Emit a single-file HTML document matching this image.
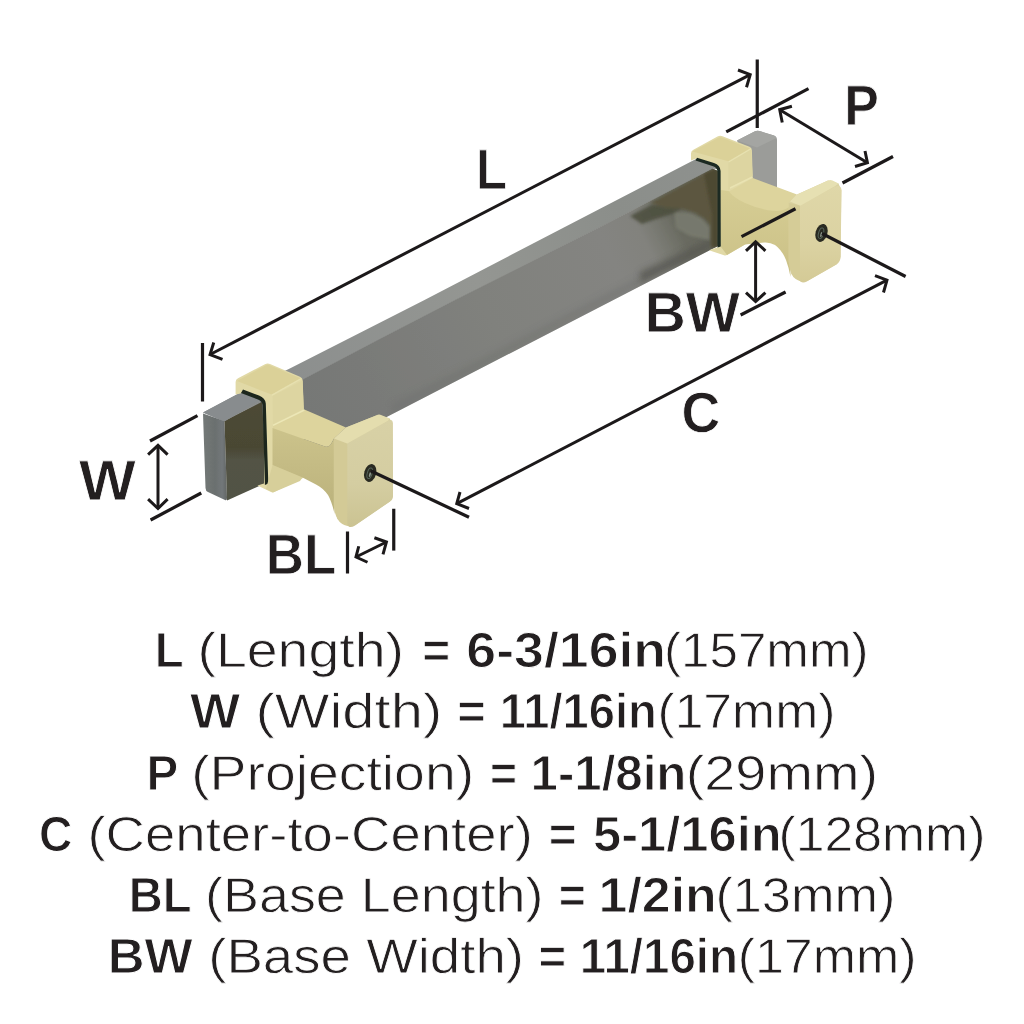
<!DOCTYPE html>
<html lang="en">
<head>
<meta charset="utf-8">
<title>Cabinet Pull Dimensions</title>
<style>
html,body{margin:0;padding:0;background:#fff;}
body{width:1024px;height:1024px;overflow:hidden;}
svg{display:block;}
text{font-family:"Liberation Sans",sans-serif;fill:#231f20;text-rendering:geometricPrecision;}
.tr{font-size:49.09px;font-weight:400;stroke:#fff;stroke-width:0.8px;}
.tb{font-size:49.38px;font-weight:700;stroke:#fff;stroke-width:1.0px;}
.lb{font-size:56.94px;font-weight:700;stroke:#fff;stroke-width:0.8px;}
</style>
</head>
<body>
<svg width="1024" height="1024" viewBox="0 0 1024 1024">
<rect width="1024" height="1024" fill="#ffffff"/>
<defs>
  <linearGradient id="gFront" gradientUnits="userSpaceOnUse" x1="300" y1="400" x2="712" y2="190">
    <stop offset="0" stop-color="#767876"/>
    <stop offset="0.15" stop-color="#797a78"/>
    <stop offset="0.445" stop-color="#80817d"/>
    <stop offset="0.74" stop-color="#848481"/>
    <stop offset="0.82" stop-color="#82827d"/>
    <stop offset="0.86" stop-color="#76776f"/>
    <stop offset="0.90" stop-color="#696a60"/>
    <stop offset="1" stop-color="#64655a"/>
  </linearGradient>
  <linearGradient id="gTop" gradientUnits="userSpaceOnUse" x1="240" y1="400" x2="712" y2="160">
    <stop offset="0" stop-color="#8a8d8d"/>
    <stop offset="0.5" stop-color="#949692"/>
    <stop offset="0.8" stop-color="#8b8e8a"/>
    <stop offset="1" stop-color="#8e918e"/>
  </linearGradient>
  <linearGradient id="gEnd" gradientUnits="userSpaceOnUse" x1="203" y1="0" x2="227" y2="0">
    <stop offset="0" stop-color="#747978"/>
    <stop offset="0.5" stop-color="#6b706f"/>
    <stop offset="0.8" stop-color="#72777a"/>
    <stop offset="1" stop-color="#626665"/>
  </linearGradient>
  <linearGradient id="gSideL" gradientUnits="userSpaceOnUse" x1="0" y1="405" x2="0" y2="500">
    <stop offset="0" stop-color="#4d4a35"/>
    <stop offset="0.45" stop-color="#4a4733"/>
    <stop offset="0.58" stop-color="#525345"/>
    <stop offset="1" stop-color="#515345"/>
  </linearGradient>
  <linearGradient id="gPlateL" gradientUnits="userSpaceOnUse" x1="0" y1="420" x2="0" y2="527">
    <stop offset="0" stop-color="#d8d1a6"/>
    <stop offset="0.6" stop-color="#d4cda1"/>
    <stop offset="1" stop-color="#cbc392"/>
  </linearGradient>
  <linearGradient id="gPlateR" gradientUnits="userSpaceOnUse" x1="0" y1="185" x2="0" y2="283">
    <stop offset="0" stop-color="#dfd7a8"/>
    <stop offset="0.6" stop-color="#dbd2a2"/>
    <stop offset="1" stop-color="#d4ca96"/>
  </linearGradient>
  <linearGradient id="gArmL" gradientUnits="userSpaceOnUse" x1="0" y1="428" x2="0" y2="500">
    <stop offset="0" stop-color="#ccc38b"/>
    <stop offset="1" stop-color="#bdb47e"/>
  </linearGradient>
  <linearGradient id="gArmR" gradientUnits="userSpaceOnUse" x1="0" y1="190" x2="0" y2="280">
    <stop offset="0" stop-color="#d6cd94"/>
    <stop offset="1" stop-color="#cac086"/>
  </linearGradient>
  <filter id="b3" x="-20%" y="-20%" width="140%" height="140%"><feGaussianBlur stdDeviation="3"/></filter>
  <filter id="b2" x="-20%" y="-20%" width="140%" height="140%"><feGaussianBlur stdDeviation="1.6"/></filter>
  <filter id="b1" x="-5%" y="-5%" width="110%" height="110%"><feGaussianBlur stdDeviation="0.6"/></filter>
  <clipPath id="cFront"><polygon points="300,381.5 380,339.3 455.8,300 600,227.5 712.5,168.75 718,171 718,246 392.5,414 300,462"/></clipPath>
</defs>

<!-- ===== product ===== -->
<g id="product" filter="url(#b1)">
  <!-- far bar end behind right clip -->
  <path d="M737,140.5 L755,131.2 Q757,130.2 759.5,131 L774,135.6 Q777,136.8 777,140 L777,188 L750,178 Z" fill="#9b9c99"/>
  <path d="M737,140.5 L755,131.2 Q757,130.2 759.5,131 L774,135.6 Q776,136.3 776.5,138 L757,147.5 Z" fill="#a4a5a2"/>

  <!-- bar top face -->
  <polygon points="203,412.5 242.5,391.5 289.8,368.4 424.5,300 600,208.75 697,158.6 715,164 718,169 712.5,168.75 600,227.5 455.8,300 380,339.3 305.4,378.5 224,421.5" fill="url(#gTop)"/>
  <!-- bar front face -->
  <polygon points="224,421.5 305.4,378 380,338.8 455.8,299.5 600,227 712.5,168.4 718,171 718,246 392.5,414 300,462" fill="url(#gFront)"/>
  <g clip-path="url(#cFront)">
    <!-- darker lower band -->
    <polygon points="392,414 640,285 640,277 392,405" fill="#6f716e" opacity="0.5" filter="url(#b3)"/>
    <polygon points="640,284 718,245 718,236 640,272" fill="#565751" opacity="0.8" filter="url(#b3)"/>
    <!-- light patch -->
    <polygon points="674,212 690,213 702,218.5 709,226.5 709.5,240 690,236 676,228" fill="#787a6e" opacity="0.95" filter="url(#b2)"/>
    <!-- dark band under boundary -->
    <polygon points="630,216 652,204.5 676,203 682,208 672,214 656,219 642,224" fill="#4c4e3e" opacity="0.85" filter="url(#b2)"/>
    <!-- olive reflection near right clip -->
    <polygon points="650,203 712,169.5 718,171 718,247 711,247 711,226 705,219 695,212.5 680,208.5 666,208" fill="#5b563f" filter="url(#b2)"/>
    <polygon points="704,174 718,167 718,247 712,247 712,215" fill="#4e4a33" filter="url(#b2)"/>
  </g>

  <!-- bar left end cap -->
  <path d="M203,413.5 L224.5,421 L227,498 Q227,500.8 225,500 L208,492 Q205.6,491 205.5,488 Z" fill="url(#gEnd)"/>
  <path d="M224.5,421 L262,402 L267,482.5 L227,500.6 Z" fill="url(#gSideL)"/>
  <polygon points="203,412.5 242.5,391.5 262,398.5 224.5,421.5" fill="#888c8e"/>

  <!-- ===== left mount ===== -->
  <!-- clip silhouette -->
  <path d="M235.6,382 Q235.6,379.5 238,378.3 L265,364.2 Q267.5,362.9 270,364 L300,376.8 Q302.6,378 302.7,380.5 L303.75,409 L303,478 L274,492 Q272.5,492.8 271,492 L257.5,485.5 L264,483.5 L264,404 Q263.6,399 259,397 L244,391 L240.5,393.4 L235.6,394.4 Z" fill="#e1d9a6"/>
  <!-- dark gap -->
  <path d="M243,389.6 L259,395.6 Q265.2,398 265.8,403.5 L268.3,483.6 L264.9,485 L262.6,405 Q262.2,401.3 258,399.4 L241,393 Z" fill="#1a261f"/>
  <!-- clip top face -->
  <path d="M237,381 L266,365.2 Q267.5,364.4 269,365 L300.5,378.3 L271.5,394.6 Z" fill="#dbd198"/>
  <!-- clip right-front above arm -->
  <polygon points="272.5,396 302.5,380.5 303.75,409 273,424.5" fill="#ddd5a1"/>
  <!-- clip lower below arm -->
  <polygon points="272.5,465 302.5,477.5 300,481 273,492.5 266,489" fill="#d7cf9a"/>
  <!-- arm top face -->
  <path d="M273,425 L304.4,409.4 L346,427.5 L334,438.5 L331,444 Q329,447.6 325,446.5 L273,428.5 Z" fill="#ddd49d"/>
  <path d="M273,425.4 L304.4,410" stroke="#ece7b7" stroke-width="1.6" fill="none"/>
  <path d="M271.8,395.2 L301,378.8" stroke="#e7e1b0" stroke-width="1.2" fill="none"/>
  <!-- arm front face -->
  <path d="M272.5,428 L325,446.5 Q329,447.6 331,444 L334,439 L334.5,514 Q332,502 328,495 Q323,488 316,484.5 L302.5,477.5 L272.5,465 Z" fill="url(#gArmL)"/>
  <path d="M334,438.5 L346,427.5 L378,414.8 L389.5,418.6 L392.6,423 L393,496 L390,501.4 L355,525.2 L347.5,526 L337.5,519 L334,505 Z" fill="#d5cd9e"/>
  <!-- plate left side face -->
  <path d="M333.75,438.5 L348.3,444 L348.3,526 Q341,525 337.5,519 Q334.5,514 333.75,505 Z" fill="#d3ca96"/>
  <!-- plate front face -->
  <path d="M347.3,443.4 L388.5,420.6 Q392.6,418.4 392.8,423 L393,496 Q393,499.6 390,501.6 L355,525.4 Q351,527.8 348.6,526.4 Q347.3,525.5 347.3,523 Z" fill="url(#gPlateL)"/>
  <!-- plate top face -->
  <path d="M334,438.5 L346,427.5 L378,414.8 Q379.4,414.3 381,414.9 L389.8,418.6 Q389,419.6 388,420.8 L347.3,443.6 Z" fill="#e4ddae"/>
  <!-- hole -->
  <g transform="translate(370.2,473) rotate(16)">
    <ellipse rx="5.9" ry="9.2" fill="#2a2c22"/>
    <ellipse rx="2.4" ry="5.4" cx="-0.4" cy="0.4" fill="none" stroke="#56635a" stroke-width="1"/>
    <ellipse rx="0.9" ry="2.6" cx="0.2" cy="1.6" fill="#8d968c"/>
  </g>

  <!-- ===== right mount ===== -->
  <!-- clip silhouette -->
  <path d="M691,153.5 Q691,151 693.4,149.8 L717.5,136.6 Q720,135.3 722.5,136.3 L749.5,146.8 Q751.8,147.7 751.9,150.3 L752.7,178 L752.7,240 L745,244.5 L727,255 Q725.5,255.8 724,255.2 L709,250.2 L720,246.5 L720,171 Q719.6,166 715,164 L697,158.3 L691,160.5 Z" fill="#e1d9a6"/>
  <!-- dark gap -->
  <path d="M697,157.8 L714,163 Q720.2,165 720.6,171 L720.8,246.5 L717.5,247.5 L717.5,171.5 Q717.2,167.6 713,166.2 L695.5,160.6 Z" fill="#1b2a22"/>
  <!-- clip top -->
  <path d="M692.5,151.5 L719,137.6 Q720.3,137 721.6,137.5 L750,148.6 L728.4,161.2 Z" fill="#dbd198"/>
  <!-- clip right-front -->
  <polygon points="728.4,162.2 751,149 752.7,176 730,187.8 728.4,191" fill="#ddd5a1"/>
  <!-- arm front face -->
  <path d="M728,191 L790,205 L790.5,277 Q789,268 786,260 Q782,250 775,245 Q770,242 764,242.5 L745,244.5 L727,255 L721,247 L721,190 Z" fill="url(#gArmR)"/>
  <!-- arm top face -->
  <path d="M729,191.5 L752.7,178 L797,194.5 L791,201 L789,207 Q784,211 776,211 Q760,210 745,203 Q733,197.5 729,191.5 Z" fill="#ddd49d"/>
  <path d="M730,188 L752.5,177" stroke="#e9e3b2" stroke-width="1.4" fill="none"/>
  <path d="M728.6,162 L751,148.8" stroke="#e7e1b0" stroke-width="1.2" fill="none"/>
  <path d="M790,201.5 L797,194.5 L828,180.6 L838.5,183.6 L841.3,190 L840.5,257 L836.5,264.3 L807,281.2 L800.5,281.5 L791.5,274 L788.75,262 L788.75,203 Z" fill="#dad2a1"/>
  <!-- plate left side -->
  <path d="M788.75,203 L801.3,205.5 L801.3,281.5 Q794,279.5 791.5,274 Q789.5,269 788.75,262 Z" fill="#d5cc97"/>
  <!-- plate front -->
  <path d="M800,205.6 L834.5,187 Q841.2,183.6 841.5,190.5 L840.6,257 Q840.5,262 836.5,264.4 L807.5,281 Q803,283.6 801,281.8 Q800,281 800,279 Z" fill="url(#gPlateR)"/>
  <!-- plate top -->
  <path d="M797,194.5 L828,180.6 Q830.5,179.6 832.5,180.4 L838.6,183.4 Q837,184.6 834.5,186.6 L800.3,205.8 L790,201.5 Z" fill="#e6e0b2"/>
  <!-- hole -->
  <g transform="translate(821.5,232.9) rotate(16)">
    <ellipse rx="5.9" ry="9.2" fill="#2a2c22"/>
    <ellipse rx="2.4" ry="5.4" cx="-0.4" cy="0.4" fill="none" stroke="#56635a" stroke-width="1"/>
    <ellipse rx="0.9" ry="2.6" cx="0.2" cy="1.6" fill="#8d968c"/>
  </g>
</g>

<!-- ===== dimension lines ===== -->
<g stroke="#1c191a" fill="none" stroke-linecap="butt" stroke-linejoin="miter">
  <g stroke-width="3.2">
    <path d="M202.5,343 V401.5"/>
    <path d="M757.25,59.5 V128"/>
    <path d="M150,441 L197.5,415.6"/>
    <path d="M150.6,520 L201.25,493"/>
    <path d="M347.5,531.5 V573.5"/>
    <path d="M393.75,508.75 V550.6"/>
    <path d="M371,471 L469,517.25"/>
    <path d="M822,233.5 L905.6,276.5"/>
    <path d="M726.25,131.9 L808.5,88.6"/>
    <path d="M842.5,183 L893,156.5"/>
    <path d="M741.5,236.7 L795.5,208.75"/>
    <path d="M740.6,315 L785.6,292"/>
  </g>
  <g stroke-width="3.0">
<path d="M210.05,354.54 L750.20,74.56"/>
<path d="M213.75,342.5 L210.05,354.54 L222.5,359.4"/>
<path d="M738,70 L750.20,74.56 L746.5,87.25"/>
<path d="M158.00,445.33 L158.00,508.47"/>
<path d="M148.1,454.6 L158.00,445.33 L167.6,454.6"/>
<path d="M148.1,499.2 L158.00,508.47 L167.6,499.2"/>
<path d="M355.98,557.02 L386.42,542.02"/>
<path d="M358.75,546.25 L355.98,557.02 L367.5,562.25"/>
<path d="M374.4,537.75 L386.42,542.02 L383,554.4"/>
<path d="M456.77,503.70 L886.96,280.06"/>
<path d="M460,492 L456.77,503.70 L469,508.5"/>
<path d="M875,275.6 L886.96,280.06 L883.5,292.5"/>
<path d="M779.72,109.69 L867.43,162.81"/>
<path d="M791.9,106.25 L779.72,109.69 L782.25,122.5"/>
<path d="M865,151 L867.43,162.81 L855,166.5"/>
<path d="M755.60,241.71 L755.60,301.51"/>
<path d="M746,250.8 L755.60,241.71 L765.4,250.8"/>
<path d="M746,292.6 L755.60,301.51 L765.4,292.6"/>
</g>
</g>

<g id="labels" style="opacity:0.999">
<g class="line">
<text class="tb" transform="translate(154.64,667.00) scale(0.9600,1)">L </text>
<text class="tr" transform="translate(197.41,667.00) scale(1.1307,1)">(Length) </text>
<text class="tb" transform="translate(422.33,667.00) scale(0.9688,1)">= </text>
<text class="tb" transform="translate(466.37,667.00) scale(1.0864,1)">6-3/16in</text>
<text class="tr" transform="translate(663.96,667.00) scale(1.0424,1)">(157mm)</text>
</g>
<g class="line">
<text class="tb" transform="translate(189.96,728.00) scale(1.0761,1)">W </text>
<text class="tr" transform="translate(255.48,728.00) scale(1.1810,1)">(Width) </text>
<text class="tb" transform="translate(457.28,728.00) scale(0.9896,1)">= </text>
<text class="tb" transform="translate(499.66,728.00) scale(0.9543,1)">11/16in</text>
<text class="tr" transform="translate(657.42,728.00) scale(1.0528,1)">(17mm)</text>
</g>
<g class="line">
<text class="tb" transform="translate(146.62,790.00) scale(0.9643,1)">P </text>
<text class="tr" transform="translate(191.17,790.00) scale(1.1275,1)">(Projection) </text>
<text class="tb" transform="translate(489.91,790.00) scale(0.9375,1)">= </text>
<text class="tb" transform="translate(530.51,790.00) scale(0.9966,1)">1-1/8in</text>
<text class="tr" transform="translate(685.63,790.00) scale(1.1387,1)">(29mm)</text>
</g>
<g class="line">
<text class="tb" transform="translate(38.91,851.00) scale(0.9375,1)">C </text>
<text class="tr" transform="translate(87.47,851.00) scale(1.1108,1)">(Center-to-Center) </text>
<text class="tb" transform="translate(548.83,851.00) scale(0.9688,1)">= </text>
<text class="tb" transform="translate(592.96,851.00) scale(1.0266,1)">5-1/16in</text>
<text class="tr" transform="translate(778.42,851.00) scale(1.0542,1)">(128mm)</text>
</g>
<g class="line">
<text class="tb" transform="translate(128.65,912.00) scale(0.9562,1)">BL </text>
<text class="tr" transform="translate(205.02,912.00) scale(1.0980,1)">(Base Length) </text>
<text class="tb" transform="translate(558.66,912.00) scale(0.9375,1)">= </text>
<text class="tb" transform="translate(598.57,912.00) scale(1.0507,1)">1/2in</text>
<text class="tr" transform="translate(715.38,912.00) scale(1.0651,1)">(13mm)</text>
</g>
<g class="line">
<text class="tb" transform="translate(107.63,973.00) scale(1.0330,1)">BW </text>
<text class="tr" transform="translate(208.21,973.00) scale(1.1135,1)">(Base Width) </text>
<text class="tb" transform="translate(538.60,973.00) scale(0.9583,1)">= </text>
<text class="tb" transform="translate(579.63,973.00) scale(0.9618,1)">11/16in</text>
<text class="tr" transform="translate(737.65,973.00) scale(1.0589,1)">(17mm)</text>
</g>
<text class="lb" transform="translate(476.07,189.00) scale(0.8907,1)">L</text>
<text class="lb" transform="translate(844.15,125.00) scale(0.9111,1)">P</text>
<text class="lb" transform="translate(644.48,332.00) scale(1.0059,1)">BW</text>
<text class="lb" transform="translate(681.49,432.00) scale(0.9409,1)">C</text>
<text class="lb" transform="translate(78.98,500.00) scale(1.0564,1)">W</text>
<text class="lb" transform="translate(265.84,574.00) scale(0.9291,1)">BL</text>
</g>
</svg>
</body>
</html>
